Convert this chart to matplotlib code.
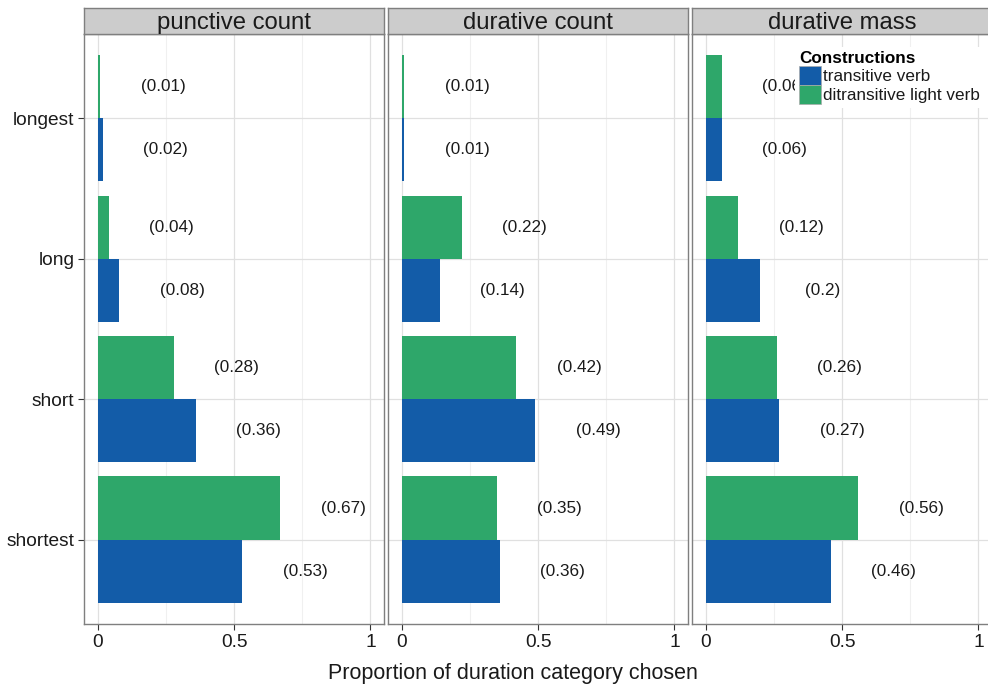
import matplotlib.pyplot as plt
import numpy as np
from matplotlib.patches import Patch

plt.rcParams['font.family'] = ['Liberation Sans', 'DejaVu Sans']

categories = ["shortest", "short", "long", "longest"]
panels = ["punctive count", "durative count", "durative mass"]
series = ["transitive verb", "ditransitive light verb"]
colors = ["#135ca8", "#2ea76a"]

# values per panel, ordered as categories (shortest -> longest)
transitive = {
    "punctive count": [0.53, 0.36, 0.08, 0.02],
    "durative count": [0.36, 0.49, 0.14, 0.01],
    "durative mass": [0.46, 0.27, 0.20, 0.06],
}
ditransitive = {
    "punctive count": [0.67, 0.28, 0.04, 0.01],
    "durative count": [0.35, 0.42, 0.22, 0.01],
    "durative mass": [0.56, 0.26, 0.12, 0.06],
}

fig = plt.figure(figsize=(9.88, 6.87), dpi=100)
lefts = [84, 388, 692]
pw, top, bot = 300, 34, 624
W, H = 988, 687
y = np.arange(len(categories)) + 1
bw = 0.45

for i, name in enumerate(panels):
    ax = fig.add_axes([lefts[i] / W, 1 - bot / H, pw / W, (bot - top) / H])
    for k, vals in enumerate([transitive[name], ditransitive[name]]):
        pos = y - bw / 2 + k * bw
        ax.barh(pos, vals, height=bw, color=colors[k], zorder=3, label=series[k])
        for p, v in zip(pos, vals):
            txt = "(%g)" % v
            ax.text(v + 0.23, p, txt, ha="center", va="center", fontsize=12.3, color="#1a1a1a", zorder=2)
    ax.set_xlim(-0.05, 1.05)
    ax.set_ylim(0.4, 4.6)
    ax.set_xticks([0, 0.5, 1])
    ax.set_xticklabels(["0", "0.5", "1"])
    ax.set_xticks([0.25, 0.75], minor=True)
    ax.set_yticks(y)
    ax.grid(True, which="major", color="#e0e0e0", lw=0.9, zorder=0)
    ax.grid(True, which="minor", axis="x", color="#f0f0f0", lw=0.8, zorder=0)
    ax.set_axisbelow(True)
    ax.tick_params(which="minor", length=0)
    ax.tick_params(which="major", length=4, color="#333333", labelsize=13.8, pad=3, labelcolor="#1a1a1a")
    if i == 0:
        ax.set_yticklabels(categories)
    else:
        ax.set_yticklabels([])
        ax.tick_params(axis="y", length=0)
    for s in ax.spines.values():
        s.set_color("#7f7f7f")
        s.set_linewidth(1.0)
    # facet strip
    sax = fig.add_axes([lefts[i] / W, 1 - top / H, pw / W, 26 / H])
    sax.set_facecolor("#cccccc")
    sax.set_xticks([])
    sax.set_yticks([])
    for s in sax.spines.values():
        s.set_color("#7f7f7f")
        s.set_linewidth(1.0)
    sax.text(0.5, 0.42, name, ha="center", va="center", fontsize=17.2, color="#1a1a1a", transform=sax.transAxes)
    if i == 2:
        handles = [Patch(facecolor=colors[0], edgecolor="#aaaaaa", lw=0.5),
                   Patch(facecolor=colors[1], edgecolor="#aaaaaa", lw=0.5)]
        leg = fig.legend(handles, series, title="Constructions", loc="upper left",
                         bbox_to_anchor=(795 / W, 1 - 47 / H), frameon=True, fontsize=12.3,
                         title_fontproperties={"weight": "bold", "size": 12.3},
                         handlelength=1.3, handleheight=1.3, handletextpad=0.1,
                         labelspacing=0.0, borderaxespad=0.0, borderpad=0.25)
        leg._legend_box.align = "left"
        leg.get_frame().set_facecolor("white")
        leg.get_frame().set_edgecolor("none")
        leg.get_frame().set_alpha(1.0)
        leg.get_frame().set_boxstyle("square", pad=0.0)
        for t in leg.get_texts():
            t.set_color("#1a1a1a")

fig.text(513 / W, 1 - 673 / H, "Proportion of duration category chosen", ha="center", va="center", fontsize=15.5, color="#1a1a1a")

fig.savefig("out.png", dpi=100)
